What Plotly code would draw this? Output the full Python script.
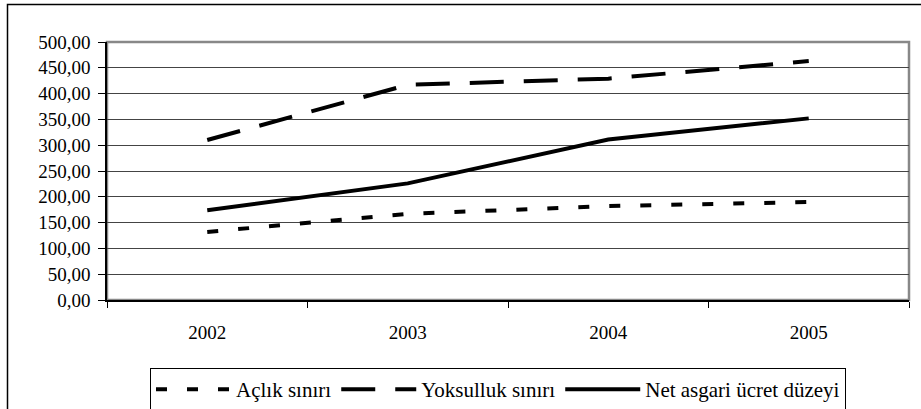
import plotly.graph_objects as go

years = ["2002", "2003", "2004", "2005"]
aclik = [132, 167, 182, 190]
yoksulluk = [310, 417, 429, 463]
asgari = [174, 226, 311, 352]
y_ticks = [0, 50, 100, 150, 200, 250, 300, 350, 400, 450, 500]
y_labels = ["%d,00" % v for v in y_ticks]

FONT = "Times New Roman, Liberation Serif, DejaVu Serif, serif"

fig = go.Figure()
fig.add_trace(go.Scatter(x=years, y=aclik, mode="lines", name="Açlık sınırı",
                         line=dict(color="black", width=4, dash="11px,20px")))
fig.add_trace(go.Scatter(x=years, y=yoksulluk, mode="lines", name="Yoksulluk sınırı",
                         line=dict(color="black", width=4, dash="34px,20px")))
fig.add_trace(go.Scatter(x=years, y=asgari, mode="lines", name="Net asgari ücret düzeyi",
                         line=dict(color="black", width=4)))

# outer frame of the whole chart (right side runs off the picture)
fig.add_shape(type="rect", xref="paper", yref="paper",
              x0=(7.5 - 107) / 802, x1=(930 - 107) / 802,
              y0=(300 - 420) / 258, y1=(300 - 4.5) / 258,
              line=dict(color="black", width=1.5), layer="below")
# grey plot border (top/right)
fig.add_shape(type="rect", xref="paper", yref="paper", x0=0, x1=1, y0=0, y1=1,
              line=dict(color="#888", width=2.5), layer="below")

fig.update_layout(
    width=921, height=409,
    margin=dict(l=107, r=12, t=42, b=109, autoexpand=False),
    plot_bgcolor="white", paper_bgcolor="white",
    font=dict(family=FONT, size=19, color="black"),
    showlegend=True,
    legend=dict(orientation="h", x=(150 - 107) / 802, xanchor="left",
                y=(300 - 368) / 258, yanchor="top",
                bordercolor="black", borderwidth=1, bgcolor="white",
                font=dict(family=FONT, size=21), itemwidth=75,
                tracegroupgap=0),
)
fig.update_xaxes(type="category", tickson="boundaries", ticks="outside", ticklen=6,
                 tickcolor="black", showline=True, linecolor="black", linewidth=1.5,
                 showgrid=False, range=[-0.5, 3.5], tickfont=dict(family=FONT, size=19),
                 ticklabelstandoff=14, automargin=False)
fig.update_yaxes(range=[0, 500], tickvals=y_ticks, ticktext=y_labels, ticks="outside",
                 ticklen=7, tickcolor="black", showline=True, linecolor="black",
                 linewidth=1.5, showgrid=True, gridcolor="#444", gridwidth=1,
                 zeroline=False, tickfont=dict(family=FONT, size=19), automargin=False,
                 ticklabelstandoff=4)

fig.write_html("out.html", config={"displayModeBar": False},
               post_script="document.body.style.margin='0';")
